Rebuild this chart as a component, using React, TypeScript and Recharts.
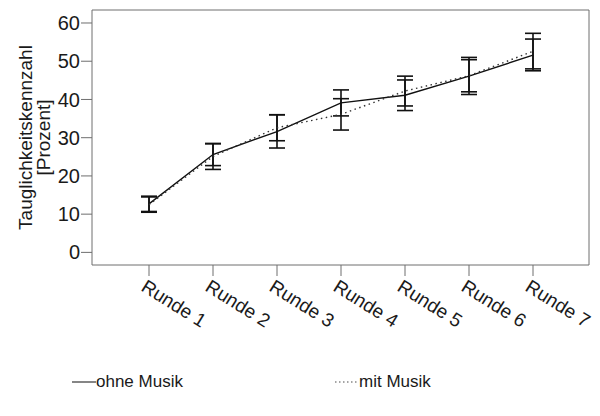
import { LineChart, Line, XAxis, YAxis, ErrorBar, Legend, CartesianGrid } from "recharts";

const ROUNDS = ["Runde 1", "Runde 2", "Runde 3", "Runde 4", "Runde 5", "Runde 6", "Runde 7"];

// ohne Musik (solid)
const OHNE_MEAN = [12.7, 25.6, 31.6, 39.1, 41.1, 46.1, 51.6];
const OHNE_LOW = [10.7, 22.7, 27.3, 35.7, 37.1, 41.3, 47.5];
const OHNE_HIGH = [14.7, 28.5, 36.0, 42.5, 45.1, 51.0, 55.8];

// mit Musik (dotted)
const MIT_MEAN = [12.5, 25.1, 32.6, 36.1, 42.2, 46.2, 52.6];
const MIT_LOW = [10.5, 21.7, 29.2, 32.0, 38.3, 42.0, 48.0];
const MIT_HIGH = [14.5, 28.4, 36.0, 40.2, 46.1, 50.4, 57.3];

const Y_TICKS = [0, 10, 20, 30, 40, 50, 60];
const Y_DOMAIN: [number, number] = [-3.3, 63.4];

const FONT = "'Liberation Sans', Arial, sans-serif";
const TEXT = "#1a1a1a";
const AXIS = "#6e6e6e";

const data = ROUNDS.map((round, i) => ({
  round,
  ohne: OHNE_MEAN[i],
  ohneErr: [OHNE_MEAN[i] - OHNE_LOW[i], OHNE_HIGH[i] - OHNE_MEAN[i]],
  mit: MIT_MEAN[i],
  mitErr: [MIT_MEAN[i] - MIT_LOW[i], MIT_HIGH[i] - MIT_MEAN[i]],
}));

function RoundTick(props: any) {
  const { x, y, payload } = props;
  const px = x - 9;
  const py = y + 12;
  return (
    <text
      x={px}
      y={py}
      transform={`rotate(32, ${px}, ${py})`}
      textAnchor="start"
      fontSize={19}
      fontFamily={FONT}
      fill={TEXT}
    >
      {payload.value}
    </text>
  );
}

function YLabel(props: any) {
  const vb = props.viewBox ?? { x: 0, y: 0, width: 0, height: 0 };
  const cy = vb.y + vb.height / 2;
  const x1 = vb.x + 32;
  const x2 = vb.x + 50;
  return (
    <g fontFamily={FONT} fontSize={19} fill={TEXT}>
      <text x={x1} y={cy} textAnchor="middle" transform={`rotate(-90, ${x1}, ${cy})`}>
        Tauglichkeitskennzahl
      </text>
      <text x={x2} y={cy} textAnchor="middle" transform={`rotate(-90, ${x2}, ${cy})`}>
        [Prozent]
      </text>
    </g>
  );
}

// where each legend entry starts, keyed by series
const LEGEND_LEFT: Record<string, number> = { ohne: 72, mit: 335 };

function LegendContent(props: any) {
  const items = props.payload ?? [];
  return (
    <div style={{ position: "relative", height: 24, width: 600, fontFamily: FONT }}>
      {items.map((it: any) => {
        const dotted = it.dataKey === "mit";
        return (
          <div
            key={it.dataKey}
            style={{
              position: "absolute",
              left: LEGEND_LEFT[it.dataKey] ?? 0,
              top: 0,
              height: 24,
              display: "flex",
              alignItems: "center",
              fontSize: 17,
              color: TEXT,
            }}
          >
            <svg width={24} height={24} style={{ display: "block" }}>
              <line
                x1={0}
                y1={12}
                x2={24}
                y2={12}
                stroke={dotted ? "#888" : "#444"}
                strokeWidth={1.3}
                strokeDasharray={dotted ? "1.5 2.5" : undefined}
              />
            </svg>
            <span>{it.value}</span>
          </div>
        );
      })}
    </div>
  );
}

// top and right edge of the plot frame
const topEdge = (p: any) => [p.offset.top];
const rightEdge = (p: any) => [p.offset.left + p.offset.width];

export default function App() {
  return (
    <div style={{ position: "absolute", left: 0, top: 0, width: 600, height: 416, background: "#fff" }}>
      <LineChart
        width={600}
        height={416}
        data={data}
        margin={{ top: 10, right: 11, bottom: 22, left: 0 }}
        style={{ fontFamily: FONT }}
      >
        <CartesianGrid
          stroke={AXIS}
          strokeWidth={1}
          horizontalCoordinatesGenerator={topEdge}
          verticalCoordinatesGenerator={rightEdge}
        />
        <XAxis
          dataKey="round"
          height={105}
          padding={{ left: 57, right: 56 }}
          tick={<RoundTick />}
          tickSize={11}
          tickMargin={2}
          interval={0}
          stroke={AXIS}
          tickLine={{ stroke: AXIS }}
        />
        <YAxis
          width={92}
          domain={Y_DOMAIN}
          ticks={Y_TICKS}
          type="number"
          allowDataOverflow
          tickSize={11}
          tickMargin={1}
          stroke={AXIS}
          tick={{ fontSize: 20, fill: TEXT, fontFamily: FONT }}
          label={<YLabel />}
        />
        <Legend verticalAlign="bottom" wrapperStyle={{ left: 0, width: 600 }} content={<LegendContent />} />
        <Line
          dataKey="ohne"
          name="ohne Musik"
          type="linear"
          stroke="#111"
          strokeWidth={1.4}
          dot={false}
          isAnimationActive={false}
        >
          <ErrorBar dataKey="ohneErr" direction="y" width={8} stroke="#111" strokeWidth={1.6} isAnimationActive={false} />
        </Line>
        <Line
          dataKey="mit"
          name="mit Musik"
          type="linear"
          stroke="#333"
          strokeWidth={1.4}
          strokeDasharray="1.5 3.5"
          dot={false}
          isAnimationActive={false}
        >
          <ErrorBar dataKey="mitErr" direction="y" width={8} stroke="#111" strokeWidth={1.6} isAnimationActive={false} />
        </Line>
      </LineChart>
    </div>
  );
}
